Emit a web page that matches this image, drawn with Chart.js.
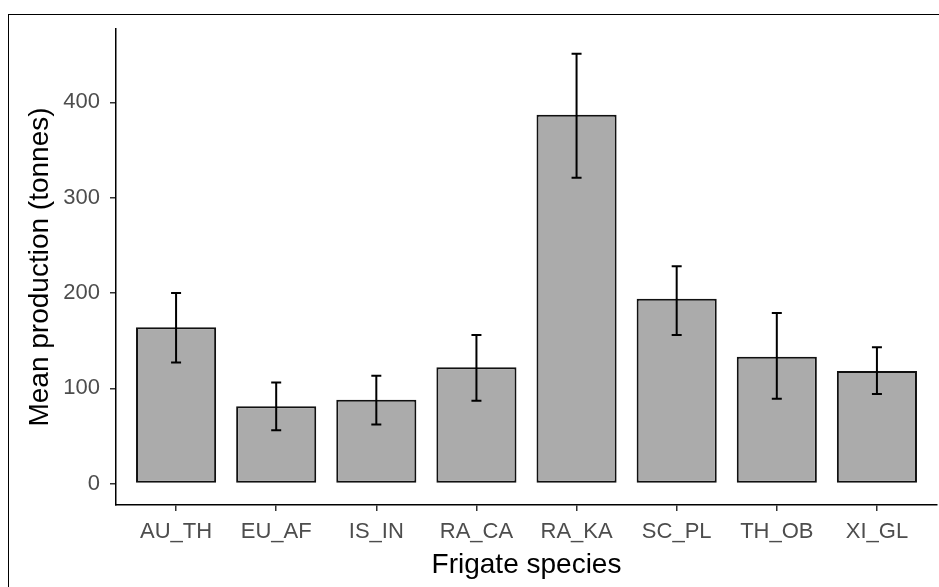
<!DOCTYPE html>
<html>
<head>
<meta charset="utf-8">
<script src="https://cdn.jsdelivr.net/npm/chart.js@4"></script>
<style>
  html, body { margin: 0; padding: 0; background: #fff; overflow: hidden; }
  #wrap { position: relative; width: 939px; height: 587px; }
  #frame { position: absolute; left: 8px; top: 14px; width: 2000px; height: 2000px; border: 1px solid #000; }
  canvas { position: absolute; left: 0; top: 0; }
</style>
</head>
<body>
<div id="wrap">
  <div id="frame"></div>
  <canvas id="myChart" width="939" height="587"></canvas>
</div>
<script>
const species = ['AU_TH', 'EU_AF', 'IS_IN', 'RA_CA', 'RA_KA', 'SC_PL', 'TH_OB', 'XI_GL']
const means = [164, 81, 88, 122, 387, 194, 133, 118]
const lower = [127, 56, 62, 87, 321, 156, 89, 94]
const upper = [200, 106, 113, 156, 451, 228, 179, 143]
const yTicks = [0, 100, 200, 300, 400]

const fontFamily = '"Liberation Sans", Arial, sans-serif'

// error bars drawn on top of the bars, through the chart scales
const errorBars = {
    id: 'errorBars',
    afterDatasetsDraw(chart) {
        const ctx = chart.ctx
        const xs = chart.scales.x
        const ys = chart.scales.y
        ctx.save()
        ctx.strokeStyle = '#000'
        ctx.lineWidth = 2
        means.forEach((m, i) => {
            const x = xs.getPixelForValue(i + 1)
            const yLo = ys.getPixelForValue(lower[i])
            const yHi = ys.getPixelForValue(upper[i])
            ctx.beginPath()
            ctx.moveTo(x, yLo)
            ctx.lineTo(x, yHi)
            ctx.moveTo(x - 5, yHi)
            ctx.lineTo(x + 5, yHi)
            ctx.moveTo(x - 5, yLo)
            ctx.lineTo(x + 5, yLo)
            ctx.stroke()
        })
        ctx.restore()
    }
}

const ctx = document.getElementById('myChart').getContext('2d')

const myChart = new Chart(ctx, {
    type: 'bar',
    data: {
        datasets: [{
            data: means.map((v, i) => ({ x: i + 1, y: v })),
            backgroundColor: '#ababab',
            borderColor: '#111',
            borderWidth: 2,
            borderSkipped: false,
            barPercentage: 0.8,
            categoryPercentage: 1
        }]
    },
    options: {
        responsive: false,
        animation: false,
        devicePixelRatio: 1,
        layout: { padding: { top: 29, right: 2, left: 0, bottom: 0 } },
        plugins: {
            legend: { display: false },
            tooltip: { enabled: false }
        },
        scales: {
            x: {
                type: 'linear',
                offset: false,
                min: 0.4,
                max: 8.6,
                afterBuildTicks: axis => { axis.ticks = species.map((s, i) => ({ value: i + 1 })) },
                afterFit: axis => { axis.height = 82 },
                grid: {
                    offset: false,
                    drawOnChartArea: false,
                    drawTicks: true,
                    tickLength: 6,
                    tickColor: '#333',
                    lineWidth: 1.5
                },
                border: { display: true, color: '#000', width: 1.5 },
                ticks: {
                    autoSkip: false,
                    maxRotation: 0,
                    padding: 8,
                    color: '#4d4d4d',
                    font: { family: fontFamily, size: 22 },
                    callback: value => species[Math.round(value) - 1]
                },
                title: {
                    display: true,
                    text: 'Frigate species',
                    color: '#000',
                    font: { family: fontFamily, size: 28 },
                    padding: { top: 0, bottom: 5 }
                }
            },
            y: {
                min: -22.5,
                max: 477,
                afterBuildTicks: axis => { axis.ticks = yTicks.map(v => ({ value: v })) },
                afterFit: axis => { axis.width = 116 },
                grid: {
                    drawOnChartArea: false,
                    drawTicks: true,
                    tickLength: 6,
                    tickColor: '#333',
                    lineWidth: 1.5
                },
                border: { display: true, color: '#000', width: 1.5 },
                ticks: {
                    padding: 10,
                    color: '#4d4d4d',
                    font: { family: fontFamily, size: 22 }
                },
                title: {
                    display: true,
                    text: 'Mean production (tonnes)',
                    color: '#000',
                    font: { family: fontFamily, size: 28 },
                    padding: { top: 23, bottom: 0 }
                }
            }
        }
    },
    plugins: [errorBars]
});
</script>
</body>
</html>
